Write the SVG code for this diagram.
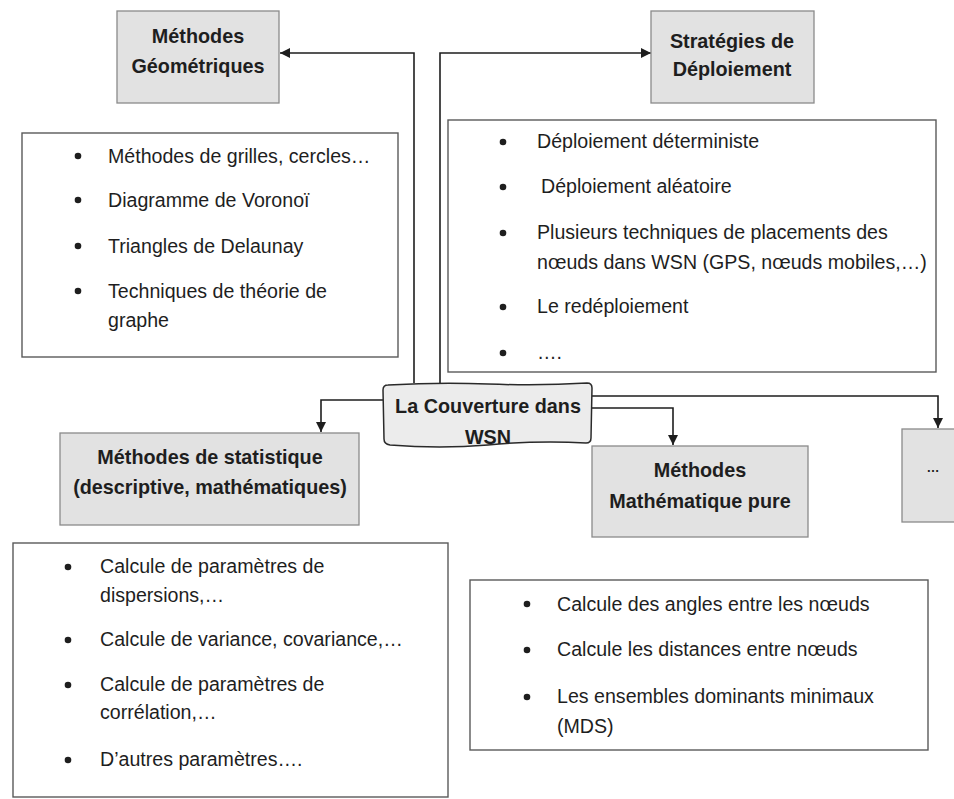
<svg xmlns="http://www.w3.org/2000/svg" width="954" height="799" viewBox="0 0 954 799">
  <style>
    text { font-family: "Liberation Sans", Arial, sans-serif; font-size: 19.6px; fill: #1e1e1e; }
    .title { font-weight: bold; font-size: 19.8px; text-anchor: middle; }
    .gray { fill: #e2e2e2; stroke: #8a8a8a; stroke-width: 1.3; }
    .list { fill: #ffffff; stroke: #5a5a5a; stroke-width: 1.4; }
    .bullet { fill: #1e1e1e; }
    .wire { fill: none; stroke: #1e1e1e; stroke-width: 1.6; }
  </style>
  <defs>
    <marker id="arrow" viewBox="0 0 10 10" refX="10" refY="5" markerWidth="10" markerHeight="10" markerUnits="userSpaceOnUse" orient="auto">
      <path d="M0,0 L10,5 L0,10 z" fill="#1e1e1e"/>
    </marker>
    <path id="docShape" d="M388,385 Q440,382 488,384 Q540,386 587,383 Q592,383 592,388 L591,438 Q591,443 586,443 Q540,440 488,445 Q440,449 390,445 Q384,444 384,439 L383,390 Q383,385 388,385 z"/>
    <clipPath id="docClip">
      <use href="#docShape"/>
    </clipPath>
  </defs>

  <rect width="954" height="799" fill="#ffffff"/>

  <!-- connectors -->
  <g id="connectors">
    <path class="wire" d="M414,383 V53 H280" marker-end="url(#arrow)"/>
    <path class="wire" d="M440,383 V53 H651" marker-end="url(#arrow)"/>
    <path class="wire" d="M383,400 H321 V432" marker-end="url(#arrow)"/>
    <path class="wire" d="M592,408 H673 V445" marker-end="url(#arrow)"/>
    <path class="wire" d="M592,396 H938 V428" marker-end="url(#arrow)"/>
  </g>

  <!-- central node -->
  <g id="coverage">
    <use href="#docShape" fill="#ececec"/>
    <g clip-path="url(#docClip)">
      <text class="title" x="488" y="413">La Couverture dans</text>
      <text class="title" x="488" y="444">WSN</text>
    </g>
    <use href="#docShape" fill="none" stroke="#2a2a2a" stroke-width="1.5"/>
  </g>

  <!-- geometric methods -->
  <g id="geometric">
    <rect class="gray" x="117" y="11" width="162" height="92"/>
    <text class="title" x="198" y="43">Méthodes</text>
    <text class="title" x="198" y="73">Géométriques</text>
  </g>
  <g id="geometric-list">
    <rect class="list" x="22" y="133" width="376" height="224"/>
    <circle class="bullet" cx="78" cy="156" r="3.3"/>
    <circle class="bullet" cx="78" cy="200" r="3.3"/>
    <circle class="bullet" cx="78" cy="246" r="3.3"/>
    <circle class="bullet" cx="78" cy="291" r="3.3"/>
    <text x="108" y="163">Méthodes de grilles, cercles…</text>
    <text x="108" y="207">Diagramme de Voronoï</text>
    <text x="108" y="253">Triangles de Delaunay</text>
    <text x="108" y="298">Techniques de théorie de</text>
    <text x="108" y="327">graphe</text>
  </g>

  <!-- deployment strategies -->
  <g id="deployment">
    <rect class="gray" x="651" y="11" width="163" height="92"/>
    <text class="title" x="732" y="48">Stratégies de</text>
    <text class="title" x="732" y="76">Déploiement</text>
  </g>
  <g id="deployment-list">
    <rect class="list" x="448" y="120" width="488" height="252"/>
    <circle class="bullet" cx="503" cy="142" r="3.3"/>
    <circle class="bullet" cx="503" cy="187" r="3.3"/>
    <circle class="bullet" cx="503" cy="233" r="3.3"/>
    <circle class="bullet" cx="503" cy="307" r="3.3"/>
    <circle class="bullet" cx="503" cy="353" r="3.3"/>
    <text x="537" y="148">Déploiement déterministe</text>
    <text x="541" y="193">Déploiement aléatoire</text>
    <text x="537" y="239">Plusieurs techniques de placements des</text>
    <text x="537" y="269">nœuds dans WSN (GPS, nœuds mobiles,…)</text>
    <text x="537" y="313">Le redéploiement</text>
    <text x="537" y="359">….</text>
  </g>

  <!-- statistical methods -->
  <g id="statistics">
    <rect class="gray" x="60" y="433" width="299" height="92"/>
    <text class="title" x="210" y="464">Méthodes de statistique</text>
    <text class="title" x="210" y="494">(descriptive, mathématiques)</text>
  </g>
  <g id="statistics-list">
    <rect class="list" x="13" y="543" width="435" height="254"/>
    <circle class="bullet" cx="68" cy="567" r="3.3"/>
    <circle class="bullet" cx="68" cy="640" r="3.3"/>
    <circle class="bullet" cx="68" cy="685" r="3.3"/>
    <circle class="bullet" cx="68" cy="760" r="3.3"/>
    <text x="100" y="573">Calcule de paramètres de</text>
    <text x="100" y="602">dispersions,…</text>
    <text x="100" y="646">Calcule de variance, covariance,…</text>
    <text x="100" y="691">Calcule de paramètres de</text>
    <text x="100" y="719">corrélation,…</text>
    <text x="100" y="766">D’autres paramètres….</text>
  </g>

  <!-- pure mathematical methods -->
  <g id="mathematics">
    <rect class="gray" x="592" y="446" width="216" height="91"/>
    <text class="title" x="700" y="477">Méthodes</text>
    <text class="title" x="700" y="508">Mathématique pure</text>
  </g>
  <g id="mathematics-list">
    <rect class="list" x="470" y="580" width="458" height="170"/>
    <circle class="bullet" cx="527" cy="604" r="3.3"/>
    <circle class="bullet" cx="527" cy="650" r="3.3"/>
    <circle class="bullet" cx="527" cy="697" r="3.3"/>
    <text x="557" y="611">Calcule des angles entre les nœuds</text>
    <text x="557" y="656">Calcule les distances entre nœuds</text>
    <text x="557" y="703">Les ensembles dominants minimaux</text>
    <text x="557" y="733">(MDS)</text>
  </g>

  <!-- other methods -->
  <g id="others">
    <rect class="gray" x="902" y="429" width="60" height="93"/>
    <text class="title" x="933" y="472" style="font-size:13px">…</text>
  </g>
</svg>
